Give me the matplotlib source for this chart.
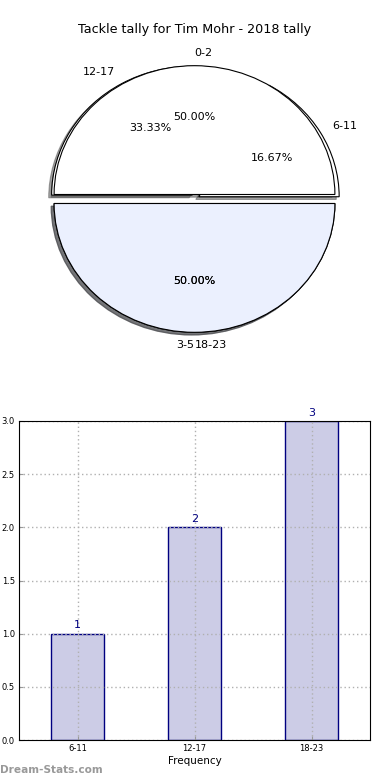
import matplotlib.pyplot as plt

title = 'Tackle tally for Tim Mohr - 2018 tally'

# first pie (two halves)
pie1_labels = ['0-2', '3-5']
pie1_values = [3, 3]
# second pie
pie2_labels = ['6-11', '12-17', '18-23']
pie2_values = [1, 2, 3]

# bar chart
bar_labels = ['6-11', '12-17', '18-23']
bar_values = [1, 2, 3]

W, H = 390, 780
fig = plt.figure(figsize=(W / 100, H / 100), dpi=100)

# ---- pie part
ax1 = fig.add_axes([19 / W, 1 - 360 / H, 351 / W, 322 / H])
wcols2 = ['white', 'white', '#EBF0FE']
wcols1 = ['white', '#EBF0FE']
shad = {'ox': -0.015, 'oy': -0.015}
_, t2, _ = ax1.pie(pie2_values, labels=pie2_labels, colors=wcols2, autopct='%.2f%%',
                   explode=[0.035, 0.035, 0.035], shadow=shad, startangle=0,
                   wedgeprops=dict(edgecolor='black', linewidth=0.8),
                   textprops=dict(fontsize=8))
_, t1, _ = ax1.pie(pie1_values, labels=pie1_labels, colors=wcols1, autopct='%.2f%%',
                   explode=[0.035, 0.035], shadow=shad, startangle=0,
                   wedgeprops=dict(edgecolor='black', linewidth=0.8),
                   textprops=dict(fontsize=8))
# old-style alignment of the labels sitting on the vertical axis
t1[0].set_ha('left')
t1[1].set_ha('right')
t2[2].set_ha('left')
ax1.set_aspect('auto')
ax1.set_xlim(-1.25, 1.25)
ax1.set_ylim(-1.25, 1.25)

fig.text(0.5, 1 - 30 / H, title, ha='center', va='center', fontsize=9.2)

# ---- bar part
ax2 = fig.add_axes([19 / W, 1 - 740 / H, 351 / W, 319 / H])
x = range(len(bar_labels))
bars = ax2.bar(x, bar_values, width=0.45, facecolor=(0.8, 0.8, 0.9),
               edgecolor='navy', linewidth=1)
for xi, v in zip(x, bar_values):
    ax2.text(xi, v + 0.03, str(v), ha='center', va='bottom', color='navy', fontsize=8)
ax2.set_xlim(-0.5, 2.5)
ax2.set_ylim(0, 3)
ax2.set_xticks(list(x))
ax2.set_xticklabels(bar_labels)
ax2.set_yticks([0, 0.5, 1, 1.5, 2, 2.5, 3])
ax2.set_yticklabels(['0.0', '0.5', '1.0', '1.5', '2.0', '2.5', '3.0'])
ax2.tick_params(labelsize=6, direction='in', length=3, color='#999999', pad=3)
ax2.grid(True, linestyle=(0, (1, 2)), color='#b0b0b0', linewidth=1)
ax2.set_axisbelow(False)
for s in ax2.spines.values():
    s.set_zorder(3)
ax2.set_xlabel('Frequency', fontsize=7.5, labelpad=2)

fig.text(0.0, 1 - 770 / H, 'Dream-Stats.com', ha='left', va='center',
         fontsize=7.6, color='#999999', fontweight='bold')

fig.savefig('out.png', dpi=100)
